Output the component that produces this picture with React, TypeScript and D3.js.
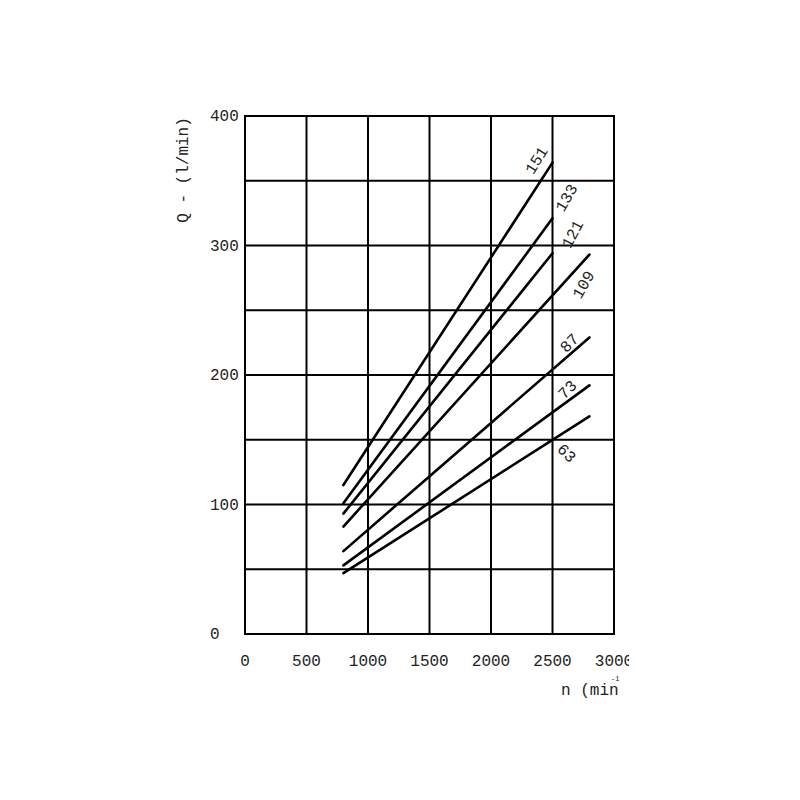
import { useEffect, useRef } from "react";
import * as d3 from "d3";

const LAYOUT = {
  width: 800,
  height: 800,
  plot: { left: 245, right: 614, top: 116, bottom: 634 },
};

const FONT = "'Liberation Mono', 'DejaVu Sans Mono', monospace";

// x / y ticks
const X_TICKS = [0, 500, 1000, 1500, 2000, 2500, 3000];
const Y_TICKS = [0, 100, 200, 300, 400];
const Y_GRID = [0, 50, 100, 150, 200, 250, 300, 350, 400];

// series
const SERIES_NAMES = ["151", "133", "121", "109", "87", "73", "63"];
const N_START = [800, 800, 800, 800, 800, 800, 800];
const N_END = [2500, 2500, 2500, 2800, 2800, 2800, 2800];
const Q_START = [115, 101, 93, 83, 64, 53, 47];
const Q_END = [364, 321, 294, 293, 229, 192, 168];

// label anchors (data space) and rotation
const LABEL_N = [2366, 2610, 2659, 2748, 2634, 2618, 2618];
const LABEL_Q = [366, 337, 309, 270, 225, 189, 140];
const LABEL_ANGLE = [-58, -60, -62, -60, -45, -45, 45];

function App() {
  const ref = useRef<SVGSVGElement | null>(null);

  useEffect(() => {
    const svg = d3.select(ref.current);
    svg.selectAll("*").remove();
    const { plot } = LAYOUT;

    const x = d3.scaleLinear().domain([0, 3000]).range([plot.left, plot.right]);
    const y = d3.scaleLinear().domain([0, 400]).range([plot.bottom, plot.top]);

    // the scan is cut off on the right, just past the plot
    const defs = svg.append("defs");
    defs
      .append("clipPath")
      .attr("id", "pageClip")
      .append("rect")
      .attr("x", 0)
      .attr("y", 0)
      .attr("width", 629)
      .attr("height", 800);

    const g = svg.append("g").attr("clip-path", "url(#pageClip)");

    // grid
    g.selectAll("line.vgrid")
      .data(X_TICKS)
      .join("line")
      .attr("x1", (d) => x(d))
      .attr("x2", (d) => x(d))
      .attr("y1", y(0))
      .attr("y2", y(400))
      .attr("stroke", "#000")
      .attr("stroke-width", 2);

    g.selectAll("line.hgrid")
      .data(Y_GRID)
      .join("line")
      .attr("x1", x(0) - 1)
      .attr("x2", x(3000) + 1)
      .attr("y1", (d) => y(d))
      .attr("y2", (d) => y(d))
      .attr("stroke", "#000")
      .attr("stroke-width", 2);

    // tick labels
    g.selectAll("text.xt")
      .data(X_TICKS)
      .join("text")
      .attr("x", (d) => x(d))
      .attr("y", plot.bottom + 32)
      .attr("text-anchor", "middle")
      .attr("font-family", FONT)
      .attr("font-size", 16)
      .attr("fill", "#222")
      .text((d) => d);

    g.selectAll("text.yt")
      .data(Y_TICKS)
      .join("text")
      .attr("x", 210)
      .attr("y", (d) => y(d) + 5)
      .attr("text-anchor", "start")
      .attr("font-family", FONT)
      .attr("font-size", 16)
      .attr("fill", "#222")
      .text((d) => d);

    // axis titles
    g.append("text")
      .attr("transform", "translate(188,170) rotate(-90)")
      .attr("text-anchor", "middle")
      .attr("font-family", FONT)
      .attr("font-size", 16)
      .attr("fill", "#222")
      .text("Q - (l/min)");

    const xl = g
      .append("text")
      .attr("x", 561)
      .attr("y", 695)
      .attr("font-family", FONT)
      .attr("font-size", 16)
      .attr("fill", "#222");
    xl.append("tspan").text("n (min");
    xl.append("tspan").attr("x", 611).attr("y", 681).attr("font-size", 7).text("-1");

    // lines
    const lines = SERIES_NAMES.map((name, i) => ({
      name,
      pts: [
        [N_START[i], Q_START[i]],
        [N_END[i], Q_END[i]],
      ] as [number, number][],
    }));

    const line = d3
      .line<[number, number]>()
      .x((d) => x(d[0]))
      .y((d) => y(d[1]));

    g.selectAll("path.series")
      .data(lines)
      .join("path")
      .attr("fill", "none")
      .attr("stroke", "#000")
      .attr("stroke-width", 2.6)
      .attr("stroke-linecap", "round")
      .attr("d", (d) => line(d.pts));

    // series labels
    g.selectAll("text.lab")
      .data(SERIES_NAMES)
      .join("text")
      .attr(
        "transform",
        (_d, i) =>
          `translate(${x(LABEL_N[i])},${y(LABEL_Q[i])}) rotate(${LABEL_ANGLE[i]})`
      )
      .attr("text-anchor", "middle")
      .attr("dy", "0.35em")
      .attr("font-family", FONT)
      .attr("font-size", 16)
      .attr("fill", "#222")
      .text((d) => d);
  }, []);

  return (
    <div style={{ position: "absolute", left: 0, top: 0, background: "#fff" }}>
      <svg ref={ref} width={LAYOUT.width} height={LAYOUT.height} />
    </div>
  );
}

export default App;
